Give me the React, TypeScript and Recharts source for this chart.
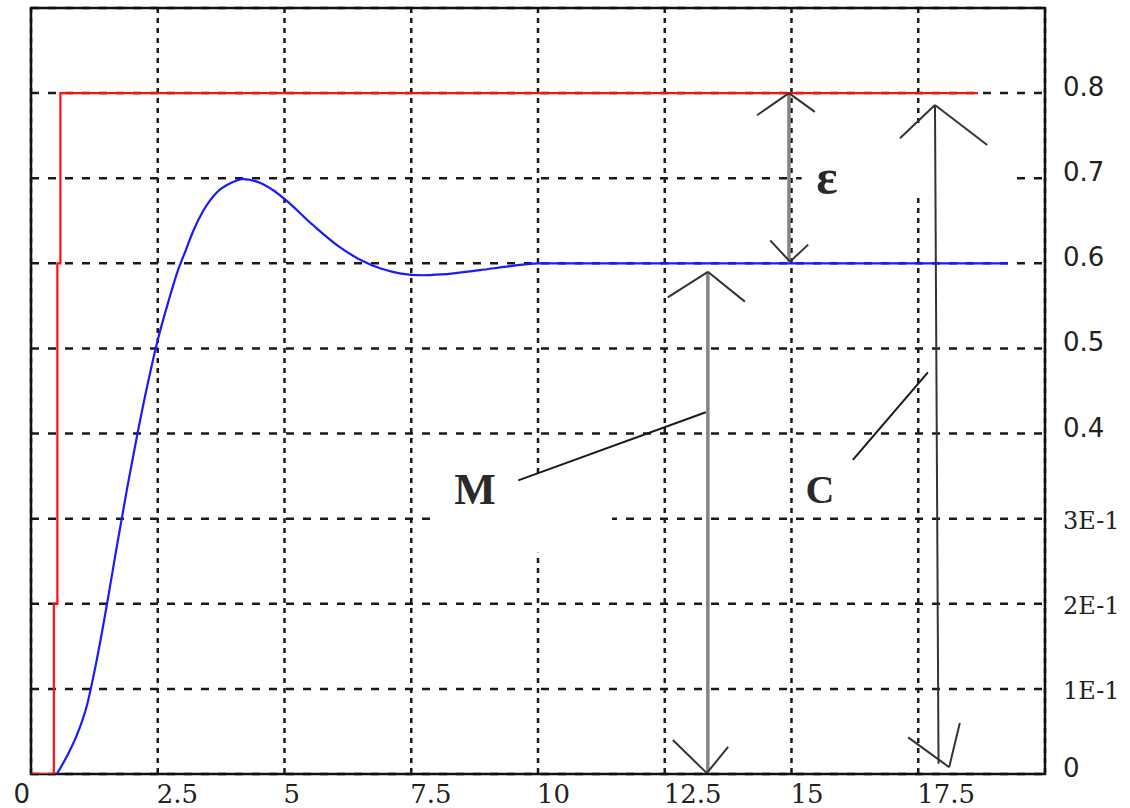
import React from "react";
import {
  ComposedChart,
  Line,
  XAxis,
  YAxis,
  CartesianGrid,
  ReferenceArea,
  ReferenceLine,
  ReferenceDot,
} from "recharts";

// axis ticks
const X_TICKS = [0, 2.5, 5, 7.5, 10, 12.5, 15, 17.5];
const Y_TICKS = [0, 0.1, 0.2, 0.3, 0.4, 0.5, 0.6, 0.7, 0.8];
const Y_LABELS = ["0", "1E-1", "2E-1", "3E-1", "0.4", "0.5", "0.6", "0.7", "0.8"];

// input step (red)
const STEP_T = [0, 0.45, 0.45, 0.52, 0.52, 0.58, 0.58, 18.68];
const STEP_Y = [0, 0, 0.2, 0.2, 0.6, 0.6, 0.8, 0.8];

// system response (blue)
const RESP_T = [
  0.51, 0.7, 0.9, 1.1, 1.3, 1.5, 1.7, 1.9, 2.1, 2.3, 2.5, 2.7, 2.9, 3.05, 3.2,
  3.4, 3.66, 3.93, 4.18, 4.5, 4.8, 5.05, 5.56, 6.09, 6.5, 6.9, 7.3, 7.7, 8.1,
  8.85, 9.5, 10.0, 19.27,
];
const RESP_Y = [
  0, 0.02, 0.045, 0.08, 0.135, 0.2, 0.27, 0.337, 0.4, 0.458, 0.51, 0.553,
  0.592, 0.615, 0.638, 0.662, 0.683, 0.694, 0.699, 0.695, 0.685, 0.673, 0.645,
  0.619, 0.604, 0.594, 0.588, 0.586, 0.587, 0.592, 0.597, 0.6, 0.6,
];

// double arrows: shaft ends and the two heads (left end, tip, right end)
const ARROW_NAMES = ["eps", "M", "C"];
const ARROW_SHAFTS = [
  [[14.95, 0.8], [14.95, 0.602]],
  [[13.35, 0.59], [13.35, 0.002]],
  [[17.83, 0.786], [17.9, 0.012]],
];
const ARROW_HEADS = [
  [[14.32, 0.774], [14.95, 0.8], [15.46, 0.778]],
  [[14.58, 0.627], [14.97, 0.602], [15.33, 0.622]],
  [[12.56, 0.56], [13.35, 0.59], [14.08, 0.555]],
  [[12.66, 0.04], [13.33, 0.001], [13.75, 0.032]],
  [[17.14, 0.747], [17.83, 0.786], [18.86, 0.739]],
  [[17.3, 0.043], [18.11, 0.008], [18.32, 0.06]],
];

// leader lines from the letters to the arrows
const LEADERS = [
  [[9.61, 0.345], [13.31, 0.425]],
  [[16.21, 0.369], [17.69, 0.472]],
];

// letters
const LETTERS = ["ε", "M", "C"];
const LETTER_POS = [
  [15.7, 0.701],
  [8.76, 0.334],
  [15.56, 0.334],
];

// blank patches behind the annotation text
const BLANKS = [
  [[15.2, 0.68], [19.3, 0.763]],
  [[7.97, 0.26], [11.46, 0.35]],
];

const stepData = STEP_T.map((t, i) => ({ t, v: STEP_Y[i] }));
const respData = RESP_T.map((t, i) => ({ t, v: RESP_Y[i] }));

const XTick = (props: any) => {
  const { x, y, payload } = props;
  const v = payload.value;
  const isZero = v === 0;
  return (
    <text
      x={x - 1}
      y={y + 29}
      textAnchor={isZero ? "end" : "start"}
      fontFamily={isZero ? "DejaVu Sans" : "DejaVu Serif"}
      fontSize={26}
      fill="#222"
    >
      {String(v)}
    </text>
  );
};

const YTick = (props: any) => {
  const { x, y, payload, index } = props;
  const label = Y_LABELS[index] ?? String(payload.value);
  const sci = label.includes("E");
  return (
    <text
      x={x + 18}
      y={sci ? y + 10 : y + 3}
      textAnchor="start"
      fontFamily={sci ? "DejaVu Serif" : "DejaVu Sans"}
      fontSize={sci ? 24 : 26}
      fill="#222"
    >
      {label}
    </text>
  );
};

const LETTER_SIZE: Record<string, number> = { "ε": 50, M: 44, C: 40 };

const App = () => {
  return (
    <div style={{ position: "absolute", left: 0, top: 0, background: "#fff" }}>
      <ComposedChart
        width={1130}
        height={808}
        margin={{ top: 8, right: 5, bottom: 4, left: 31 }}
      >
        <XAxis
          dataKey="t"
          type="number"
          domain={[0, 20]}
          ticks={X_TICKS}
          axisLine={false}
          tickLine={false}
          tickSize={0}
          tickMargin={0}
          height={30}
          tick={<XTick />}
          interval={0}
          allowDataOverflow
        />
        <YAxis
          orientation="right"
          type="number"
          domain={[0, 0.9]}
          ticks={Y_TICKS}
          axisLine={false}
          tickLine={false}
          tickSize={0}
          tickMargin={0}
          width={80}
          tick={<YTick />}
          interval={0}
          allowDataOverflow
        />
        <CartesianGrid
          horizontal
          vertical={false}
          stroke="#1a1a1a"
          strokeWidth={2.5}
          strokeDasharray="8 9"
        />
        <CartesianGrid
          horizontal={false}
          vertical
          stroke="#1a1a1a"
          strokeWidth={2.5}
          strokeDasharray="5 5"
        />

        {BLANKS.map(([a, b], i) => (
          <ReferenceArea
            key={`blank-${i}`}
            x1={a[0]}
            x2={b[0]}
            y1={a[1]}
            y2={b[1]}
            fill="#fff"
            fillOpacity={1}
            stroke="none"
          />
        ))}

        <ReferenceArea
          x1={0}
          x2={20}
          y1={0}
          y2={0.9}
          fill="none"
          stroke="#111"
          strokeWidth={2.5}
        />

        <Line
          data={stepData}
          dataKey="v"
          type="linear"
          stroke="#ff1010"
          strokeWidth={2.2}
          dot={false}
          isAnimationActive={false}
        />
        <Line
          data={respData}
          dataKey="v"
          type="monotone"
          stroke="#1a1aff"
          strokeWidth={2.2}
          dot={false}
          isAnimationActive={false}
        />

        {ARROW_SHAFTS.map(([a, b], i) => (
          <ReferenceLine
            key={`shaft-${ARROW_NAMES[i]}`}
            segment={[
              { x: a[0], y: a[1] },
              { x: b[0], y: b[1] },
            ]}
            stroke={ARROW_NAMES[i] === "C" ? "#333" : "#858585"}
            strokeWidth={ARROW_NAMES[i] === "C" ? 2 : 3.5}
            ifOverflow="visible"
          />
        ))}
        {ARROW_HEADS.flatMap(([l, tip, r], i) => [
          <ReferenceLine
            key={`head-l-${i}`}
            segment={[
              { x: l[0], y: l[1] },
              { x: tip[0], y: tip[1] },
            ]}
            stroke="#333"
            strokeWidth={2}
            ifOverflow="visible"
          />,
          <ReferenceLine
            key={`head-r-${i}`}
            segment={[
              { x: tip[0], y: tip[1] },
              { x: r[0], y: r[1] },
            ]}
            stroke="#333"
            strokeWidth={2}
            ifOverflow="visible"
          />,
        ])}
        {LEADERS.map(([a, b], i) => (
          <ReferenceLine
            key={`leader-${i}`}
            segment={[
              { x: a[0], y: a[1] },
              { x: b[0], y: b[1] },
            ]}
            stroke="#1a1a1a"
            strokeWidth={2}
            ifOverflow="visible"
          />
        ))}
        {LETTERS.map((s, i) => (
          <ReferenceDot
            key={`letter-${i}`}
            x={LETTER_POS[i][0]}
            y={LETTER_POS[i][1]}
            r={0}
            ifOverflow="visible"
            shape={(p: any) => (
              <text
                x={p.cx}
                y={p.cy}
                textAnchor="middle"
                dominantBaseline="central"
                fontFamily="Liberation Serif"
                fontWeight="bold"
                fontSize={LETTER_SIZE[s]}
                fill="#2a2a2a"
              >
                {s}
              </text>
            )}
          />
        ))}
      </ComposedChart>
    </div>
  );
};

export default App;
